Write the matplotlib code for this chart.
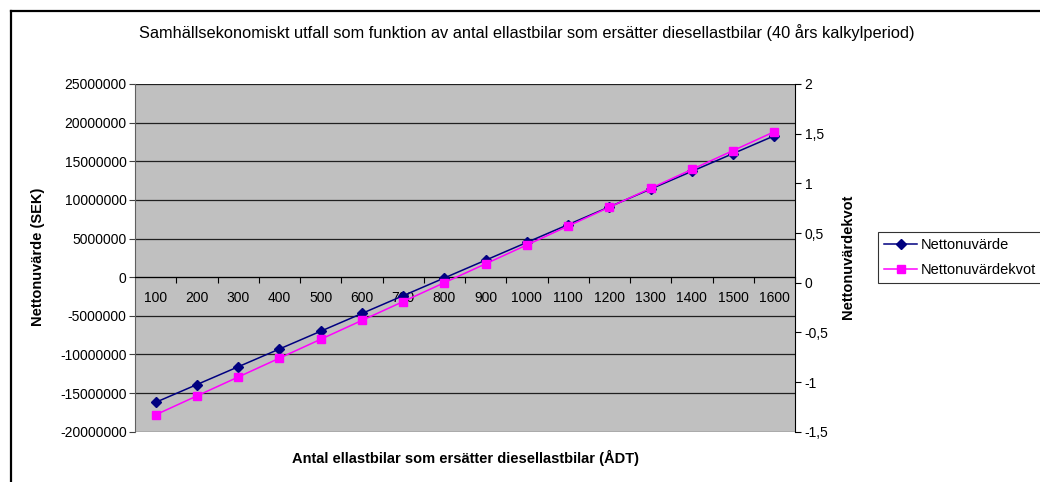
import matplotlib
matplotlib.use("Agg")
import matplotlib.pyplot as plt
from matplotlib.lines import Line2D
from matplotlib.ticker import FixedLocator, FuncFormatter

plt.rcParams['font.family'] = ['Liberation Sans', 'DejaVu Sans']

# data
antal = [100, 200, 300, 400, 500, 600, 700, 800, 900, 1000, 1100, 1200, 1300, 1400, 1500, 1600]
nettonuvarde = [-16200000, -13900000, -11600000, -9300000, -7000000, -4700000, -2400000, -100000,
                2200000, 4500000, 6800000, 9100000, 11400000, 13700000, 16000000, 18300000]
nettonuvardekvot = [-1.33, -1.14, -0.95, -0.76, -0.57, -0.38, -0.19, 0.0,
                    0.19, 0.38, 0.57, 0.76, 0.95, 1.14, 1.33, 1.52]

left_ticks = [-20000000, -15000000, -10000000, -5000000, 0, 5000000, 10000000, 15000000, 20000000, 25000000]
right_ticks = [-1.5, -1, -0.5, 0, 0.5, 1, 1.5, 2]

W, H = 1040, 482
fig = plt.figure(figsize=(W / 100, H / 100), dpi=100)
fig.patch.set_facecolor("white")

ax = fig.add_axes([135 / W, 1 - 431.7 / H, (795 - 135) / W, (431.7 - 84) / H])
ax.set_facecolor("#C0C0C0")
pos = list(range(1, len(antal) + 1))

# left axis
ax.set_ylim(-20000000, 25000000)
ax.set_yticks(left_ticks)
ax.set_yticklabels([str(v) for v in left_ticks])
ax.yaxis.grid(True, color="#202020", linewidth=0.9)
ax.set_axisbelow(True)
ax.tick_params(axis="y", direction="out", length=4, width=0.8, labelsize=10, pad=2, color="#404040")

# category axis crossing at zero
ax.set_xlim(0.5, len(antal) + 0.5)
ax.spines["bottom"].set_position(("data", 0))
ax.spines["bottom"].set_color("black")
ax.spines["top"].set_visible(False)
ax.spines["right"].set_visible(False)
ax.spines["left"].set_color("#606060")
ax.xaxis.set_major_locator(FixedLocator(pos))
ax.set_xticklabels([str(a) for a in antal])
ax.xaxis.set_minor_locator(FixedLocator([p + 0.5 for p in pos]))
ax.tick_params(axis="x", which="major", length=0, labelsize=10, pad=10)
ax.tick_params(axis="x", which="minor", direction="out", length=4, width=0.8, color="black")

ax.plot(pos, nettonuvarde, color="#000080", marker="D", markersize=5.5, linewidth=1.1,
        label="Nettonuvärde", zorder=3)

# right axis
ax2 = ax.twinx()
ax2.set_ylim(-1.5, 2)
ax2.set_yticks(right_ticks)
ax2.yaxis.set_major_formatter(FuncFormatter(lambda v, p: ("%g" % v).replace(".", ",")))
ax2.tick_params(axis="y", direction="out", length=4, width=0.8, labelsize=10, pad=3, color="black")
for s in ["top", "left", "bottom"]:
    ax2.spines[s].set_visible(False)
ax2.spines["right"].set_color("black")
ax2.plot(pos, nettonuvardekvot, color="#FF00FF", marker="s", markersize=6, linewidth=1.1,
         label="Nettonuvärdekvot", zorder=3)

# texts
fig.text(527 / W, 1 - 33 / H,
         "Samhällsekonomiskt utfall som funktion av antal ellastbilar som ersätter diesellastbilar (40 års kalkylperiod)",
         ha="center", va="center", fontsize=11.8)
fig.text(38 / W, 1 - 257 / H, "Nettonuvärde (SEK)", rotation=90, ha="center", va="center",
         fontsize=10.5, fontweight="bold")
fig.text(848 / W, 1 - 257 / H, "Nettonuvärdekvot", rotation=90, ha="center", va="center",
         fontsize=10.5, fontweight="bold")
fig.text(465 / W, 1 - 458 / H, "Antal ellastbilar som ersätter diesellastbilar (ÅDT)",
         ha="center", va="center", fontsize=10.5, fontweight="bold")

# legend
h1, l1 = ax.get_legend_handles_labels()
h2, l2 = ax2.get_legend_handles_labels()
leg = fig.legend(h1 + h2, l1 + l2, loc="upper left", bbox_to_anchor=(878 / W, 1 - 232 / H),
                 frameon=True, fancybox=False, edgecolor="black", fontsize=10.5,
                 borderaxespad=0, handlelength=2.3, handletextpad=0.2, borderpad=0.4,
                 labelspacing=0.75)
leg.get_frame().set_linewidth(0.8)

# chart frame
fig.add_artist(Line2D([10.5 / W, 10.5 / W], [0, 1 - 10.5 / H], color="black", linewidth=1.6))
fig.add_artist(Line2D([10.5 / W, 1], [1 - 10.5 / H, 1 - 10.5 / H], color="black", linewidth=1.6))

fig.savefig("out.png", dpi=100)
